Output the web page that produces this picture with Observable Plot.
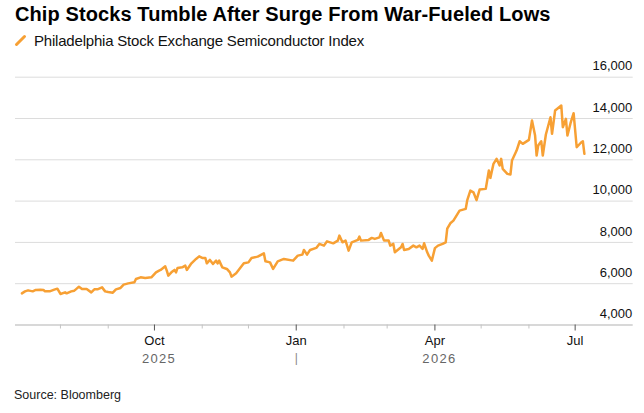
<!DOCTYPE html>
<html><head><meta charset="utf-8">
<script src="https://cdn.jsdelivr.net/npm/d3@7"></script>
<script src="https://cdn.jsdelivr.net/npm/@observablehq/plot@0.6"></script>
<style>
html,body{margin:0;padding:0;background:#fff;overflow:hidden;}
body{font-family:"Liberation Sans",Arial,sans-serif;color:#000;}
#wrap{width:644px;}
.title{height:28px;line-height:28px;font-size:20px;font-weight:bold;padding-left:15px;letter-spacing:0.1px;white-space:nowrap;color:#000;}
.sub{height:25px;line-height:25px;font-size:15px;letter-spacing:-0.2px;padding-left:34px;position:relative;white-space:nowrap;color:#111;}
.sub svg{position:absolute;left:0;top:0;}
.src{padding-top:10px;line-height:20px;font-size:12.5px;padding-left:14px;color:#222;}
</style></head>
<body>
<div id="wrap">
  <div class="title">Chip Stocks Tumble After Surge From War-Fueled Lows</div>
  <div class="sub"><svg width="30" height="25"><line x1="16.5" y1="16.5" x2="24.5" y2="8.5" stroke="#f7a034" stroke-width="3" stroke-linecap="round"/></svg>Philadelphia Stock Exchange Semiconductor Index</div>
  <div id="chart"></div>
  <div class="src">Source: Bloomberg</div>
</div>
<script>
const dates = [
"2025-07-07","2025-07-09","2025-07-11","2025-07-14","2025-07-16","2025-07-19","2025-07-21","2025-07-22","2025-07-25","2025-07-28",
"2025-07-30","2025-08-01","2025-08-04","2025-08-05","2025-08-08","2025-08-10","2025-08-11","2025-08-13","2025-08-15","2025-08-18",
"2025-08-21","2025-08-23","2025-08-25","2025-08-28","2025-08-30","2025-09-01","2025-09-04","2025-09-06","2025-09-09","2025-09-11",
"2025-09-14","2025-09-18","2025-09-19","2025-09-22","2025-09-25","2025-09-29","2025-10-02","2025-10-04","2025-10-05","2025-10-08",
"2025-10-09","2025-10-10","2025-10-12","2025-10-14","2025-10-15","2025-10-16","2025-10-19","2025-10-21","2025-10-22","2025-10-25",
"2025-10-28","2025-10-30","2025-11-01","2025-11-03","2025-11-04","2025-11-06","2025-11-08","2025-11-10","2025-11-11","2025-11-12",
"2025-11-14","2025-11-17","2025-11-19","2025-11-20","2025-11-23","2025-11-26","2025-11-28","2025-12-01","2025-12-03","2025-12-07",
"2025-12-11","2025-12-12","2025-12-15","2025-12-17","2025-12-20","2025-12-24","2025-12-30","2026-01-02","2026-01-05","2026-01-06",
"2026-01-08","2026-01-10","2026-01-14","2026-01-16","2026-01-19","2026-01-21","2026-01-25","2026-01-28","2026-01-29","2026-01-31",
"2026-02-02","2026-02-04","2026-02-06","2026-02-10","2026-02-11","2026-02-12","2026-02-17","2026-02-19","2026-02-21","2026-02-24",
"2026-02-25","2026-02-27","2026-03-02","2026-03-03","2026-03-05","2026-03-06","2026-03-10","2026-03-11","2026-03-12","2026-03-15",
"2026-03-18","2026-03-20","2026-03-22","2026-03-24","2026-03-25","2026-03-27","2026-03-28","2026-03-30","2026-04-01","2026-04-03",
"2026-04-06","2026-04-08","2026-04-09","2026-04-11","2026-04-13","2026-04-15","2026-04-17","2026-04-21","2026-04-22","2026-04-24",
"2026-04-26","2026-04-28","2026-04-30","2026-05-04","2026-05-06","2026-05-07","2026-05-09","2026-05-11","2026-05-13","2026-05-14",
"2026-05-15","2026-05-18","2026-05-20","2026-05-21","2026-05-24","2026-05-26","2026-05-28","2026-06-01","2026-06-03","2026-06-05",
"2026-06-06","2026-06-07","2026-06-09","2026-06-10","2026-06-12","2026-06-15","2026-06-16","2026-06-18","2026-06-22","2026-06-23",
"2026-06-25","2026-06-26","2026-06-28","2026-06-30","2026-07-02","2026-07-05","2026-07-06","2026-07-07"
];
const values = [
5532,5629,5677,5629,5696,5711,5696,5629,5629,5711,
5759,5503,5580,5532,5629,5663,5726,5856,5745,5745,
5580,5726,5726,5822,5629,5600,5566,5726,5793,5953,
6016,6065,6230,6307,6278,6307,6550,6632,6666,6840,
6632,6390,6550,6666,6550,6763,6792,6874,6666,6986,
7199,7325,7247,7247,6986,7151,6957,7117,6986,7117,
6792,6714,6550,6341,6501,6792,6986,7034,7247,7311,
7470,7083,7034,6714,7083,7199,7117,7359,7407,7635,
7407,7635,7732,7926,7844,8052,7955,8086,8328,8004,
8086,7601,8004,8120,8280,8086,8120,8217,8168,8246,
8459,8086,8086,7844,7926,7519,7761,7926,7635,7684,
7844,7761,7844,7684,7955,7519,7359,7117,7723,7844,
7926,8004,8668,8925,9055,9298,9540,9623,10049,10509,
10427,10049,10558,10592,11479,11125,11804,12046,11721,12046,
11561,11319,11285,11964,12448,12899,12773,12967,13902,13175,
12206,12691,12899,12206,13224,14060,13258,14387,14630,13577,
13985,13175,13772,14256,12608,12851,12899,12288
];
const yTicks = [4000, 6000, 8000, 10000, 12000, 14000, 16000];
const majorMonths = ["2025-10-01", "2026-01-01", "2026-04-01", "2026-07-01"];
const minorMonths = ["2025-08-01", "2025-09-01", "2025-11-01", "2025-12-01", "2026-02-01", "2026-03-01", "2026-05-01", "2026-06-01"];
const yearLabels = ["2025", "2026"];
const yearDates = ["2025-10-01", "2026-04-01"];
const yearBreak = ["2026-01-01"];
const xDomain = ["2025-07-02T20:00:00Z", "2026-08-07T16:00:00Z"];

const data = dates.map((d, i) => ({date: new Date(d), value: values[i]}));
const years = yearLabels.map((t, i) => ({date: new Date(yearDates[i]), label: t}));
const FONT = '"Liberation Sans", Arial, sans-serif';
const ORANGE = "#f7a034";

const chart = Plot.plot({
  width: 644,
  height: 322,
  marginTop: 23.7,
  marginBottom: 50.5,
  marginLeft: 15,
  marginRight: 11.3,
  style: {fontFamily: FONT, fontSize: "13px", color: "#111", background: "white"},
  x: {type: "utc", domain: xDomain.map(d => new Date(d))},
  y: {domain: [4000, 16000], axis: null},
  marks: [
    Plot.ruleY(yTicks.filter(v => v > 4000), {stroke: "#dcdcdc", strokeWidth: 1}),
    Plot.ruleY([4000], {stroke: "#d8d8d8", strokeWidth: 2}),
    Plot.axisX({ticks: minorMonths.map(d => new Date(d)), tickSize: 4, stroke: "#c4c4c4", fill: "none", label: null}),
    Plot.axisX({ticks: majorMonths.map(d => new Date(d)), tickSize: 6, tickPadding: 5, stroke: "#555", fill: "#111",
      fontSize: 13, tickFormat: d3.utcFormat("%b"), label: null}),
    Plot.text(years, {x: "date", text: "label", frameAnchor: "bottom", lineAnchor: "top", dy: 28.6, dx: 4.5,
      fill: "#666", fontSize: 13}),
    Plot.text(yearBreak.map(d => new Date(d)), {x: d => d, text: () => "|", frameAnchor: "bottom", lineAnchor: "top",
      dy: 28.8, fill: "#888", fontSize: 12}),
    Plot.line(data, {x: "date", y: "value", stroke: ORANGE, strokeWidth: 2.5, strokeLinejoin: "round", strokeLinecap: "round"}),
    Plot.text(yTicks, {y: d => d, text: d => d3.format(",")(d), frameAnchor: "right", textAnchor: "end",
      dx: -1, dy: -11, fill: "#111", fontSize: 13})
  ]
});
chart.querySelectorAll("text").forEach(t => {
  if (yearLabels.includes(t.textContent)) t.style.letterSpacing = "1.3px";
});
document.getElementById("chart").appendChild(chart);
</script>
</body></html>
